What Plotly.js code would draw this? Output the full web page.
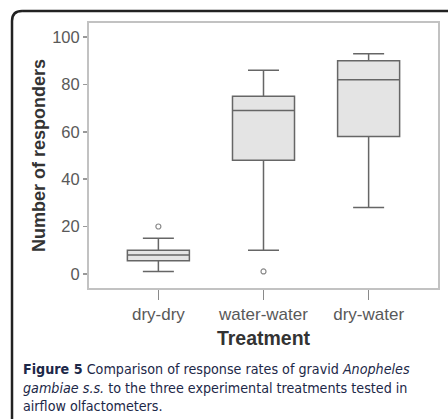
<!DOCTYPE html>
<html>
<head>
<meta charset="utf-8">
<script src="https://cdn.plot.ly/plotly-3.0.1.min.js"></script>
<style>html,body{margin:0;padding:0;background:#fff;overflow:hidden;}#chart{width:448px;height:419px;}</style>
</head>
<body>
<div id="chart"></div>
<script>
// Data
const categories = ['dry-dry', 'water-water', 'dry-water'];
const q1Values = [5.5, 48, 58];
const medianValues = [8, 69, 82];
const q3Values = [10, 75, 90];
const lowerWhisker = [1, 10, 28];
const upperWhisker = [15, 86, 93];
const outlierCategories = ['dry-dry', 'water-water'];
const outlierValues = [20, 1];
const yTicks = [0, 20, 40, 60, 80, 100];

const boxTrace = {
  type: 'box',
  x: categories,
  q1: q1Values,
  median: medianValues,
  q3: q3Values,
  lowerfence: lowerWhisker,
  upperfence: upperWhisker,
  boxpoints: false,
  width: 0.59,
  whiskerwidth: 0.5,
  fillcolor: '#e4e4e4',
  line: {color: '#666666', width: 1.5},
  hoverinfo: 'skip',
  showlegend: false
};

const outlierTrace = {
  type: 'scatter',
  mode: 'markers',
  x: outlierCategories,
  y: outlierValues,
  marker: {symbol: 'circle-open', size: 5, color: '#8a8a8a', line: {width: 1.2}},
  showlegend: false,
  hoverinfo: 'skip'
};

// frame geometry in paper units (plot area 349 x 265 px)
const fx = -0.2206, fyTop = 1.0453, rx = 0.0287, ry = 0.0377;
const frameLeft = `M ${fx},-0.52 L ${fx},${fyTop - ry} Q ${fx},${fyTop} ${fx + rx},${fyTop}`;

const capFont = {family: '"DejaVu Sans Condensed", sans-serif', size: 14.2, color: '#1c2848'};
const capX = (21 - 89) / 349;
function capY(py) { return (288 - py) / 265; }

const layout = {
  width: 448,
  height: 419,
  margin: {l: 89, r: 10, t: 23, b: 131},
  paper_bgcolor: '#ffffff',
  plot_bgcolor: '#ffffff',
  font: {family: '"Liberation Sans", Arial, sans-serif', color: '#555555'},
  xaxis: {
    type: 'category',
    categoryorder: 'array',
    categoryarray: categories,
    range: [-0.66, 2.66],
    showline: true, mirror: true, linecolor: '#c2c2c2', linewidth: 2,
    ticks: 'outside', ticklen: 10, tickcolor: '#8a8a8a', tickwidth: 1.5,
    tickfont: {size: 17, color: '#595959'},
    showgrid: false, zeroline: false,
    title: {text: '<b>Treatment</b>', font: {size: 19.5, color: '#333333'}, standoff: 8}
  },
  yaxis: {
    range: [-6, 106],
    tickvals: yTicks,
    showline: true, mirror: true, linecolor: '#c2c2c2', linewidth: 2,
    ticks: 'outside', ticklen: 4, tickcolor: '#999999', tickwidth: 1.5,
    tickfont: {size: 16.5, color: '#595959'},
    showgrid: false, zeroline: false,
    title: {text: '<b>Number of responders</b>', font: {size: 18, color: '#333333'}, standoff: 2}
  },
  shapes: [
    {type: 'path', xref: 'paper', yref: 'paper', path: frameLeft,
     line: {color: '#222222', width: 2.5}, layer: 'above'},
    {type: 'line', xref: 'paper', yref: 'paper', x0: fx + rx, x1: 1.03, y0: fyTop, y1: fyTop,
     line: {color: '#222222', width: 2.5}, layer: 'above'}
  ],
  annotations: [
    {xref: 'paper', yref: 'paper', x: capX, y: capY(369), xanchor: 'left', yanchor: 'middle', showarrow: false, font: capFont,
     text: '<b>Figure 5</b> Comparison of response rates of gravid <i>Anopheles</i>'},
    {xref: 'paper', yref: 'paper', x: capX, y: capY(388), xanchor: 'left', yanchor: 'middle', showarrow: false, font: capFont,
     text: '<i>gambiae s.s.</i> to the three experimental treatments tested in'},
    {xref: 'paper', yref: 'paper', x: capX, y: capY(406), xanchor: 'left', yanchor: 'middle', showarrow: false, font: capFont,
     text: 'airflow olfactometers.'}
  ]
};

Plotly.newPlot('chart', [boxTrace, outlierTrace], layout, {staticPlot: true, displayModeBar: false});
</script>
</body>
</html>
